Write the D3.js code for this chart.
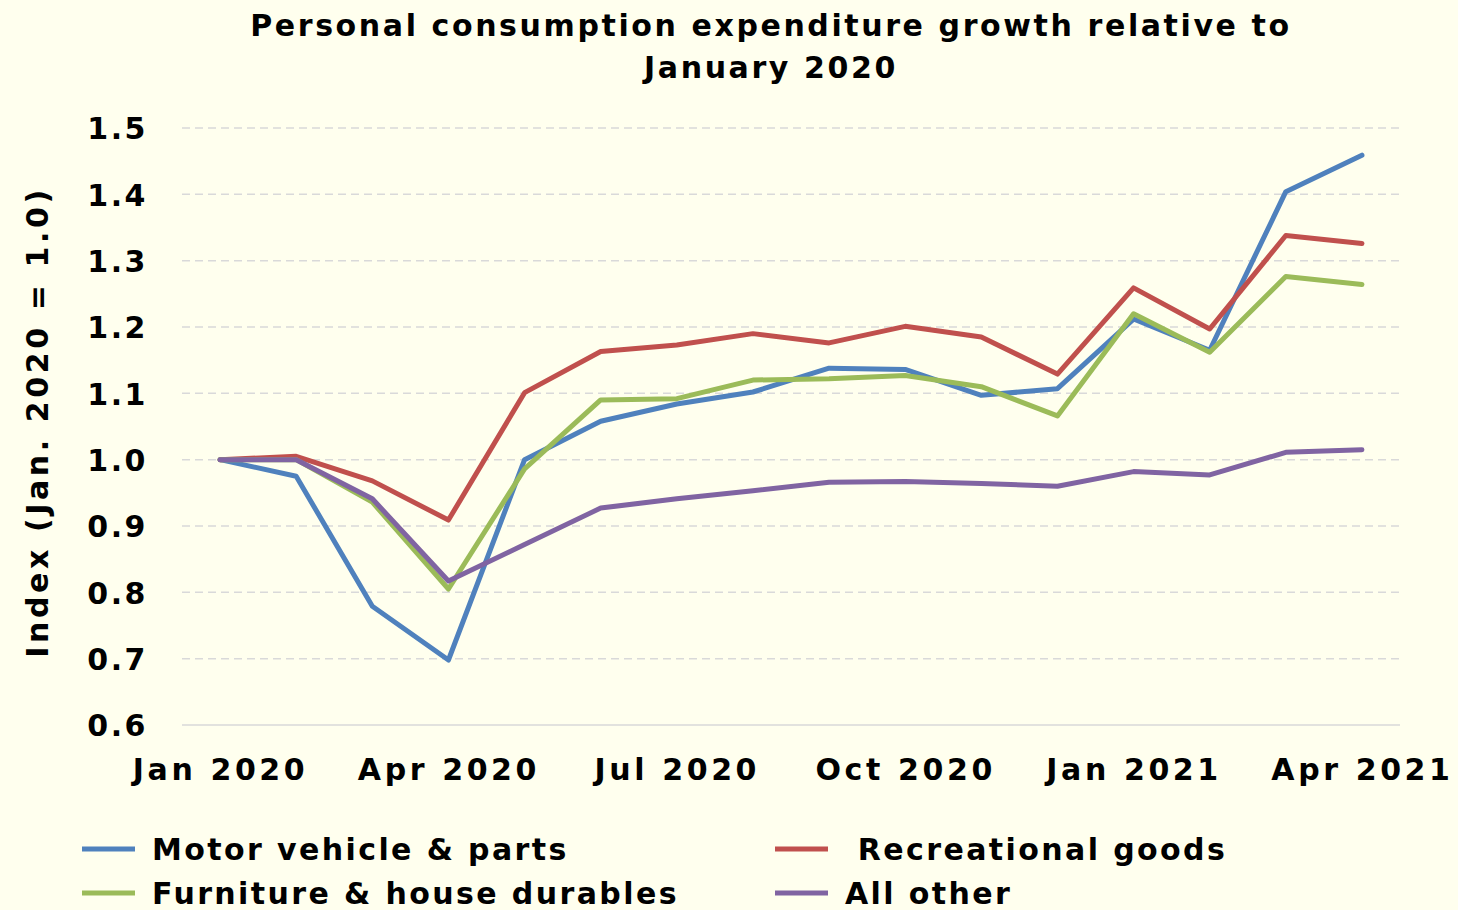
<!DOCTYPE html>
<html>
<head>
<meta charset="utf-8">
<script src="https://cdn.jsdelivr.net/npm/d3@7"></script>
<style>
  body { margin: 0; background: #FFFFEE; }
  text { font-family: "DejaVu Sans", Verdana, sans-serif; font-weight: bold; fill: #000; }
</style>
</head>
<body>
<div id="chart"></div>
<script>
// months Jan 2020 .. Apr 2021
const months = ["Jan 2020","Feb 2020","Mar 2020","Apr 2020","May 2020","Jun 2020","Jul 2020","Aug 2020",
                "Sep 2020","Oct 2020","Nov 2020","Dec 2020","Jan 2021","Feb 2021","Mar 2021","Apr 2021"]
const tickMonths = ["Jan 2020","Apr 2020","Jul 2020","Oct 2020","Jan 2021","Apr 2021"]
const yTicks = [0.6, 0.7, 0.8, 0.9, 1.0, 1.1, 1.2, 1.3, 1.4, 1.5]

const motorVehicle = [1.000, 0.975, 0.779, 0.698, 1.000, 1.058, 1.084, 1.102, 1.138, 1.136, 1.097, 1.107, 1.212, 1.165, 1.404, 1.459]
const recreational = [1.000, 1.005, 0.968, 0.909, 1.101, 1.163, 1.173, 1.190, 1.176, 1.201, 1.185, 1.129, 1.259, 1.197, 1.338, 1.326]
const furniture    = [1.000, 1.000, 0.936, 0.805, 0.986, 1.090, 1.092, 1.120, 1.122, 1.127, 1.110, 1.066, 1.220, 1.162, 1.276, 1.264]
const allOther     = [1.000, 1.000, 0.941, 0.817, 0.872, 0.927, 0.941, 0.953, 0.966, 0.967, 0.964, 0.960, 0.982, 0.977, 1.011, 1.015]

const seriesNames = ["Motor vehicle & parts", " Recreational goods", "Furniture & house durables", "All other"]
const seriesColors = ["#4F81BD", "#C0504D", "#9BBB59", "#8064A2"]
const seriesValues = [motorVehicle, recreational, furniture, allOther]

const W = 1458, H = 910
const PLOT = {LEFT: 182, RIGHT: 1400, TOP: 128, BOTTOM: 725}

const svg = d3.select("#chart").append("svg")
    .attr("width", W)
    .attr("height", H)
    .style("background", "#FFFFEE")

const x = d3.scalePoint()
    .domain(months)
    .range([PLOT.LEFT, PLOT.RIGHT])
    .padding(0.5)

const y = d3.scaleLinear()
    .domain([0.6, 1.5])
    .range([PLOT.BOTTOM, PLOT.TOP])

// gridlines
svg.append("g")
    .selectAll("line")
    .data(yTicks.filter(d => d > 0.6))
    .enter().append("line")
    .attr("x1", PLOT.LEFT).attr("x2", PLOT.RIGHT)
    .attr("y1", d => y(d)).attr("y2", d => y(d))
    .attr("stroke", "#D9D9D9")
    .attr("stroke-width", 1.5)
    .attr("stroke-dasharray", "8,5")

// bottom axis line
svg.append("line")
    .attr("x1", PLOT.LEFT).attr("x2", PLOT.RIGHT)
    .attr("y1", y(0.6)).attr("y2", y(0.6))
    .attr("stroke", "#D9D9D9")
    .attr("stroke-width", 1.5)

// y axis
const yAxis = svg.append("g")
    .attr("transform", `translate(${PLOT.LEFT - 34},0)`)
    .call(d3.axisLeft(y).tickValues(yTicks).tickFormat(d3.format(".1f")).tickSize(0).tickPadding(0))
yAxis.select(".domain").remove()
yAxis.selectAll("text")
    .attr("font-size", 30)
    .attr("dy", "0.36em")
    .attr("letter-spacing", 2.5)
    .style("font-family", "DejaVu Sans, Verdana, sans-serif")
    .style("font-weight", "bold")

// x axis
const xAxis = svg.append("g")
    .attr("transform", `translate(0,${PLOT.BOTTOM + 34})`)
    .call(d3.axisBottom(x).tickValues(tickMonths).tickSize(0).tickPadding(0))
xAxis.select(".domain").remove()
xAxis.selectAll("text")
    .attr("font-size", 30)
    .attr("dy", "0.71em")
    .attr("letter-spacing", 3.6)
    .style("font-family", "DejaVu Sans, Verdana, sans-serif")
    .style("font-weight", "bold")

// lines
const line = d3.line()
    .x((d, i) => x(months[i]))
    .y(d => y(d))

svg.append("g")
    .selectAll("path")
    .data(seriesValues)
    .enter().append("path")
    .attr("d", d => line(d))
    .attr("fill", "none")
    .attr("stroke", (d, i) => seriesColors[i])
    .attr("stroke-width", 5)
    .attr("stroke-linejoin", "round")
    .attr("stroke-linecap", "round")

// title
svg.append("text")
    .attr("x", 771).attr("y", 36)
    .attr("text-anchor", "middle")
    .attr("font-size", 30)
    .attr("letter-spacing", 2.6)
    .text("Personal consumption expenditure growth relative to")
svg.append("text")
    .attr("x", 771).attr("y", 78)
    .attr("text-anchor", "middle")
    .attr("font-size", 30)
    .attr("letter-spacing", 2.6)
    .text("January 2020")

// y title
svg.append("text")
    .attr("transform", "translate(48,422) rotate(-90)")
    .attr("text-anchor", "middle")
    .attr("font-size", 30)
    .attr("letter-spacing", 3.6)
    .text("Index (Jan. 2020 = 1.0)")

// legend
const legendPos = [[82, 849], [775, 849], [82, 893], [775, 893]]
const legend = svg.append("g")
    .selectAll("g")
    .data(seriesNames)
    .enter().append("g")
    .attr("transform", (d, i) => `translate(${legendPos[i][0]},${legendPos[i][1]})`)
legend.append("line")
    .attr("x1", 0).attr("x2", 53)
    .attr("stroke", (d, i) => seriesColors[i])
    .attr("stroke-width", 5)
legend.append("text")
    .attr("x", 70)
    .attr("dy", "0.36em")
    .attr("font-size", 30)
    .attr("letter-spacing", 2.4)
    .attr("xml:space", "preserve")
    .style("white-space", "pre")
    .text(d => d)
</script>
</body>
</html>
